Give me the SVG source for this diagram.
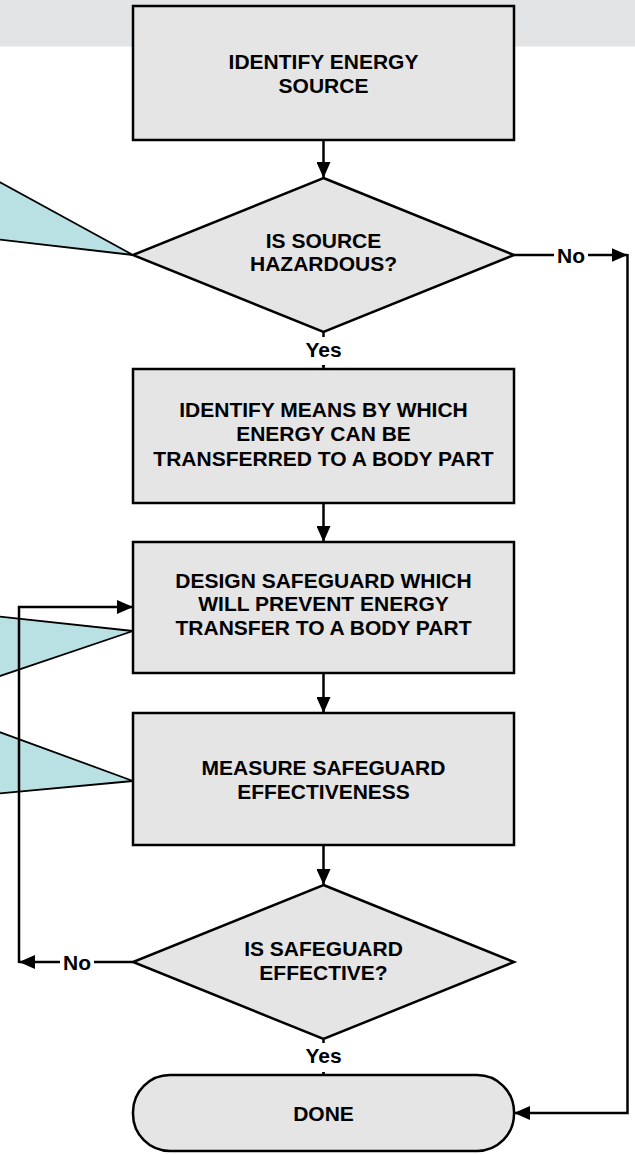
<svg xmlns="http://www.w3.org/2000/svg" width="635" height="1154" viewBox="0 0 635 1154">
<style>
.band{fill:#e3e4e6}
.box{fill:#e5e5e5;stroke:#000;stroke-width:2.5}
.t{font-family:"Liberation Sans",Arial,sans-serif;font-weight:bold;font-size:21px;text-anchor:middle;fill:#000}
.conn{fill:none;stroke:#000;stroke-width:2.5}
.callout{fill:#b9e0e3;stroke:#000;stroke-width:1.8;stroke-linejoin:miter}
.bg{fill:#fff}
</style>
<defs>
<marker id="arr" markerUnits="userSpaceOnUse" markerWidth="16" markerHeight="14" refX="16" refY="7" orient="auto">
<path d="M0,0 L16,7 L0,14 Z" fill="#000"/>
</marker>
</defs>
<rect class="band" x="0" y="0" width="635" height="46.5"/>
<g id="callouts">
<polygon class="callout" points="-6,179 133,255 -6,239"/>
<polygon class="callout" points="-6,616 133,631 -6,678"/>
<polygon class="callout" points="-6,730 133,781 -6,794"/>
</g>
<g id="connectors">
<path class="conn" d="M323.5,140 V178" marker-end="url(#arr)"/>
<path class="conn" d="M323.5,332 V369" marker-end="url(#arr)"/>
<path class="conn" d="M323.5,503 V542" marker-end="url(#arr)"/>
<path class="conn" d="M323.5,673 V713" marker-end="url(#arr)"/>
<path class="conn" d="M323.5,845 V885" marker-end="url(#arr)"/>
<path class="conn" d="M323.5,1039 V1075" marker-end="url(#arr)"/>
<path class="conn" d="M514,255 H627.5" marker-end="url(#arr)"/>
<path class="conn" d="M627.5,254 V1113 H514" marker-end="url(#arr)"/>
<path class="conn" d="M133,962 H19" marker-end="url(#arr)"/>
<path class="conn" d="M19,963 V607 H133" marker-end="url(#arr)"/>
</g>
<g id="labels">
<rect class="bg" x="304" y="337" width="39" height="28"/>
<text class="t" x="323.5" y="356.5">Yes</text>
<rect class="bg" x="304" y="1043" width="39" height="29"/>
<text class="t" x="323.5" y="1062.5">Yes</text>
<rect class="bg" x="554" y="243" width="34" height="24"/>
<text class="t" x="571" y="262.5">No</text>
<rect class="bg" x="60" y="950" width="34" height="24"/>
<text class="t" x="77" y="969.5">No</text>
</g>
<g id="n1">
<rect class="box" x="133" y="6" width="381" height="134"/>
<text class="t" x="323.5" y="69">IDENTIFY ENERGY</text>
<text class="t" x="323.5" y="92.5">SOURCE</text>
</g>
<g id="d1">
<polygon class="box" points="323.5,178 514,255 323.5,332 133,255"/>
<text class="t" x="323.5" y="247.5">IS SOURCE</text>
<text class="t" x="323.5" y="271">HAZARDOUS?</text>
</g>
<g id="n2">
<rect class="box" x="133" y="369" width="381" height="134"/>
<text class="t" x="323.5" y="417">IDENTIFY MEANS BY WHICH</text>
<text class="t" x="323.5" y="441">ENERGY CAN BE</text>
<text class="t" x="323.5" y="465.5">TRANSFERRED TO A BODY PART</text>
</g>
<g id="n3">
<rect class="box" x="133" y="542" width="381" height="131"/>
<text class="t" x="323.5" y="587.5">DESIGN SAFEGUARD WHICH</text>
<text class="t" x="323.5" y="611">WILL PREVENT ENERGY</text>
<text class="t" x="323.5" y="634.5">TRANSFER TO A BODY PART</text>
</g>
<g id="n4">
<rect class="box" x="133" y="713" width="381" height="132"/>
<text class="t" x="323.5" y="775">MEASURE SAFEGUARD</text>
<text class="t" x="323.5" y="799">EFFECTIVENESS</text>
</g>
<g id="d2">
<polygon class="box" points="323.5,885 514,962 323.5,1039 133,962"/>
<text class="t" x="323.5" y="955.5">IS SAFEGUARD</text>
<text class="t" x="323.5" y="979.5">EFFECTIVE?</text>
</g>
<g id="n5">
<rect class="box" x="133" y="1075" width="381" height="76" rx="37" ry="37"/>
<text class="t" x="323.5" y="1120.5">DONE</text>
</g>
</svg>
